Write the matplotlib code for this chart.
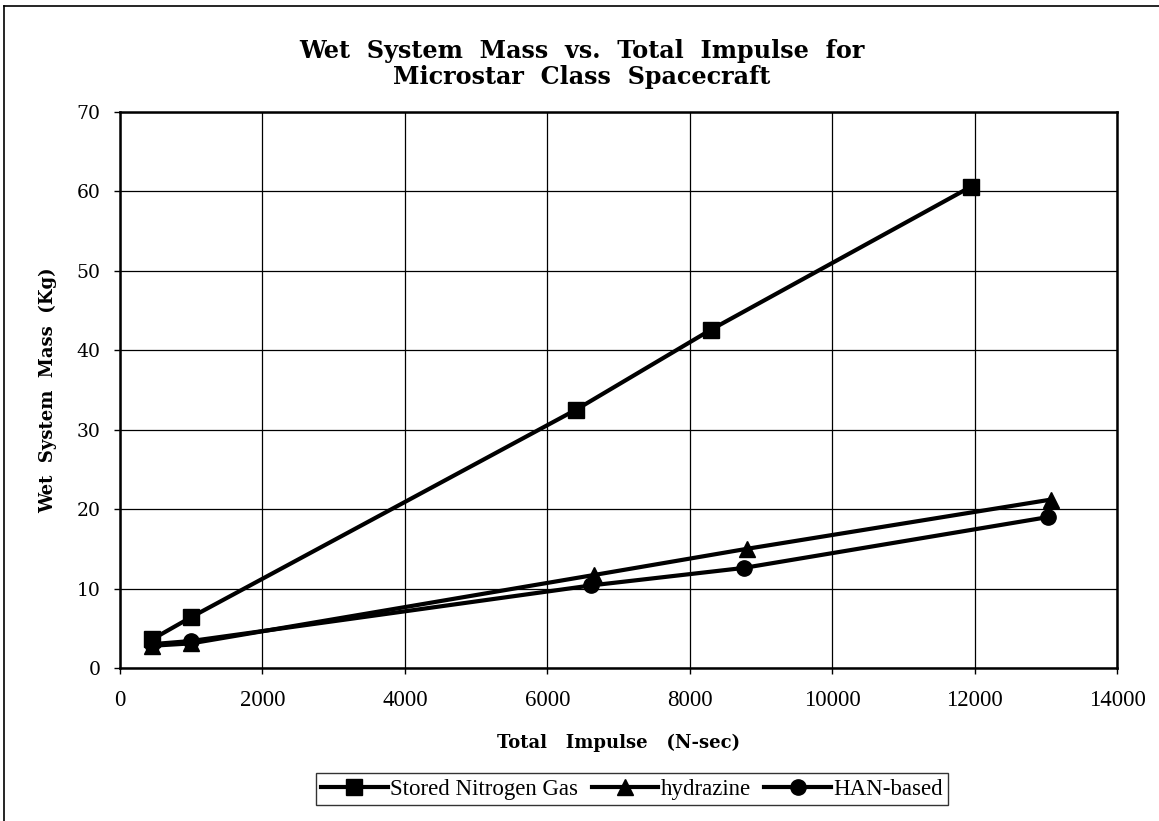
import matplotlib.pyplot as plt
from matplotlib.lines import Line2D

plt.rcParams['font.family'] = ['Liberation Serif', 'DejaVu Serif']

# values
impulse_n2 = [450, 1000, 6400, 8300, 11950]
mass_n2 = [3.6, 6.4, 32.5, 42.6, 60.6]
impulse_hyd = [450, 1000, 6650, 8800, 13070]
mass_hyd = [2.8, 3.1, 11.7, 15.0, 21.2]
impulse_han = [450, 1000, 6620, 8760, 13030]
mass_han = [3.0, 3.4, 10.4, 12.6, 19.0]

series_names = ['Stored Nitrogen Gas', 'hydrazine', 'HAN-based']
x_ticks = [0, 2000, 4000, 6000, 8000, 10000, 12000, 14000]
y_ticks = [0, 10, 20, 30, 40, 50, 60, 70]

fig = plt.figure(figsize=(11.59, 8.21), dpi=100)
ax = fig.add_axes([120 / 1159, 1 - 668 / 821, 997 / 1159, 556 / 821])

ax.plot(impulse_n2, mass_n2, color='black', lw=3, marker='s', ms=11)
ax.plot(impulse_hyd, mass_hyd, color='black', lw=3, marker='^', ms=12)
ax.plot(impulse_han, mass_han, color='black', lw=3, marker='o', ms=11)

ax.set_xlim(0, 14000)
ax.set_ylim(0, 70)
ax.set_xticks(x_ticks)
ax.set_yticks(y_ticks)
ax.grid(True, color='black', lw=0.9)
ax.tick_params(direction='out', length=4, width=1, pad=10)
ax.tick_params(axis='x', labelsize=16.5, pad=12)
for lab in ax.get_yticklabels():
    lab.set_fontfamily('DejaVu Serif')
    lab.set_fontsize(13.5)
for s in ax.spines.values():
    s.set_linewidth(1.8)

ax.set_xlabel('Total   Impulse   (N-sec)', fontsize=13, fontweight='bold',
              family='DejaVu Serif', labelpad=16)
ax.set_ylabel('Wet  System  Mass  (Kg)', fontsize=13, fontweight='bold',
              family='DejaVu Serif', labelpad=14)

fig.text(0.502, 1 - 64 / 821, 'Wet  System  Mass  vs.  Total  Impulse  for\nMicrostar  Class  Spacecraft',
         ha='center', va='center', fontsize=17.2, fontweight='bold', family='DejaVu Serif',
         linespacing=1.12)

handles = [Line2D([], [], color='black', lw=3, marker=m, ms=11) for m in ['s', '^', 'o']]
leg = fig.legend(handles, series_names, loc='center', bbox_to_anchor=(632 / 1159, 1 - 789 / 821),
                 ncol=3, fontsize=16.5, frameon=True, fancybox=False, edgecolor='black',
                 handlelength=2.9, handletextpad=0.1, columnspacing=0.6, borderpad=0.25)
leg.get_frame().set_linewidth(1.0)

# outer border of the original page (left and top only)
fig.add_artist(Line2D([4 / 1159, 4 / 1159], [0, 1 - 6 / 821], color='black', lw=1.2))
fig.add_artist(Line2D([4 / 1159, 1], [1 - 6 / 821, 1 - 6 / 821], color='black', lw=1.2))

fig.savefig('out.png', dpi=100)
